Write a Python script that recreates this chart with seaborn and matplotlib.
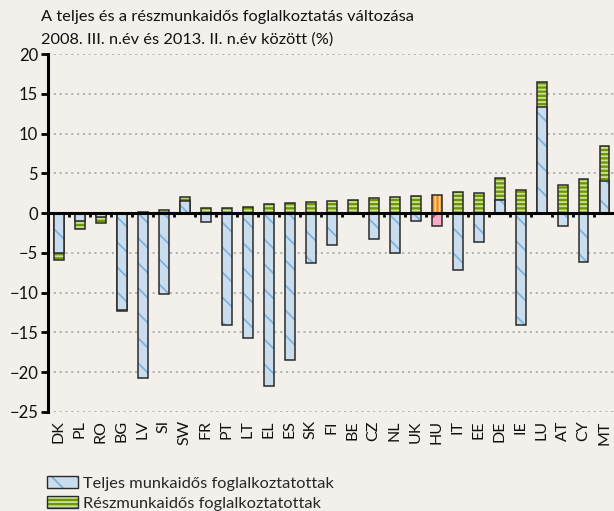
import matplotlib
matplotlib.use("Agg")
import matplotlib.pyplot as plt
import seaborn as sns
import numpy as np
import pandas as pd
from matplotlib.colors import to_rgba
from matplotlib.patches import Patch

countries = ["DK", "PL", "RO", "BG", "LV", "SI", "SW", "FR", "PT", "LT", "EL", "ES", "SK", "FI",
             "BE", "CZ", "NL", "UK", "HU", "IT", "EE", "DE", "IE", "LU", "AT", "CY", "MT"]
full_time = [-5.0, -1.05, -0.5, -12.2, -20.75, -10.15, 1.5, -1.15, -14.05, -15.7, -21.8, -18.5, -6.25, -4.0,
             0.0, -3.3, -5.0, -0.95, -1.65, -7.1, -3.65, 1.6, -14.05, 13.4, -1.65, -6.1, 4.1]
part_time = [-0.85, -0.9, -0.7, -0.15, 0.2, 0.45, 0.5, 0.6, 0.65, 0.75, 1.1, 1.3, 1.45, 1.5,
             1.7, 1.85, 2.05, 2.2, 2.3, 2.6, 2.55, 2.85, 2.85, 3.15, 3.6, 4.25, 4.3]
title_lines = ["A teljes és a részmunkaidős foglalkoztatás változása",
               "2008. III. n.év és 2013. II. n.év között (%)"]
legend_labels = ["Teljes munkaidős foglalkoztatottak", "Részmunkaidős foglalkoztatottak"]
highlight = "HU"

DPI = 75
S = 100 / DPI  # point-size scale so that sizes match a 100-dpi layout
BG = "#f3f0ec"
sns.set_theme(style="white")
plt.rcParams["font.family"] = ["Lato", "DejaVu Sans"]
plt.rcParams["hatch.linewidth"] = 1.3 * S

df = pd.DataFrame({"country": countries, "full": full_time, "part": part_time})
# stacking: same-sign part-time extends beyond full-time; opposite sign starts from zero
df["outer"] = np.where(np.sign(df["full"]) == np.sign(df["part"]), df["full"] + df["part"], df["part"])

fig = plt.figure(figsize=(614 / DPI, 511 / DPI), dpi=DPI, facecolor=BG)
ax = fig.add_axes([0.078, 0.194, 0.922, 0.700])
ax.set_facecolor(BG)

# grid
for v in [-25, -20, -15, -10, -5, 5, 10, 15, 20]:
    ax.axhline(v, color="#a2a2a2", lw=1.1 * S, ls=(0, (1.4, 2.4)), zorder=0.5)

sns.barplot(data=df, x="country", y="outer", order=countries, width=0.47, ax=ax,
            color="#6f9a06", saturation=1, zorder=2)
n_outer = len(ax.patches)
sns.barplot(data=df, x="country", y="full", order=countries, width=0.47, ax=ax,
            color="#c9ddef", saturation=1, zorder=3)

green_p = ax.patches[:n_outer]
blue_p = ax.patches[n_outer:]
for c, p in zip(countries, green_p):
    if c == highlight:
        p.set_facecolor("#f28a10"); p.set_hatch("|||"); hc = "#fbd6a8"
    else:
        p.set_facecolor("#6c9702"); p.set_hatch("---"); hc = "#cde298"
    p.set_edgecolor("#2a2a2a"); p.set_linewidth(1.1 * S)
    p._hatch_color = to_rgba(hc)
for c, p in zip(countries, blue_p):
    if c == highlight:
        p.set_facecolor("#f6acc9"); p.set_hatch("/"); hc = "#e0288c"
    else:
        p.set_facecolor("#c9ddef"); p.set_hatch("\\"); hc = "#80b2da"
    p.set_edgecolor("#2a2a2a"); p.set_linewidth(1.1 * S)
    p._hatch_color = to_rgba(hc)

ax.set_ylim(-25, 20)
ax.set_xlim(-0.52, 26.45)
ax.set_yticks(np.arange(-25, 21, 5))
ax.set_xlabel(""); ax.set_ylabel("")

for s in ["top", "right"]:
    ax.spines[s].set_visible(False)
ax.spines["left"].set_color("black"); ax.spines["left"].set_linewidth(2.2 * S)
ax.spines["bottom"].set_position(("data", 0))
ax.spines["bottom"].set_color("black"); ax.spines["bottom"].set_linewidth(2.2 * S)
ax.spines["bottom"].set_zorder(5)

ax.tick_params(axis="y", direction="out", length=5 * S, width=2 * S, color="black",
               labelsize=12 * S, pad=2 * S, labelcolor="#111111", left=True)
ax.set_xticks(np.arange(len(countries) - 1) + 0.5, minor=True)
ax.tick_params(axis="x", which="minor", direction="out", length=3 * S, width=2 * S,
               color="black", bottom=True)
ax.tick_params(axis="x", which="major", length=0, labelbottom=False)

sec = ax.secondary_xaxis(0)
sec.set_xticks(range(len(countries)), countries, rotation=90)
sec.tick_params(length=0, labelsize=11.5 * S, pad=6 * S, labelcolor="#111111")
sec.spines["bottom"].set_visible(False)

fig.text(0.066, 1 - 21 / 511, title_lines[0], ha="left", va="baseline",
         fontsize=11.8 * S, color="#111111")
fig.text(0.066, 1 - 44 / 511, title_lines[1], ha="left", va="baseline",
         fontsize=11.8 * S, color="#111111")

h_full = Patch(facecolor="#c9ddef", edgecolor="#2a2a2a", hatch="\\", lw=1.0 * S)
h_full._hatch_color = to_rgba("#80b2da")
h_part = Patch(facecolor="#6c9702", edgecolor="#2a2a2a", hatch="---", lw=1.0 * S)
h_part._hatch_color = to_rgba("#cde298")
fig.legend([h_full, h_part], legend_labels, loc="upper left", bbox_to_anchor=(0.077, 0.068),
           frameon=False, fontsize=11.8 * S, handlelength=1.9, handleheight=0.75, handletextpad=0.25,
           labelspacing=0.3, borderpad=0, borderaxespad=0)

fig.savefig("out.png", dpi=DPI, facecolor=BG)
